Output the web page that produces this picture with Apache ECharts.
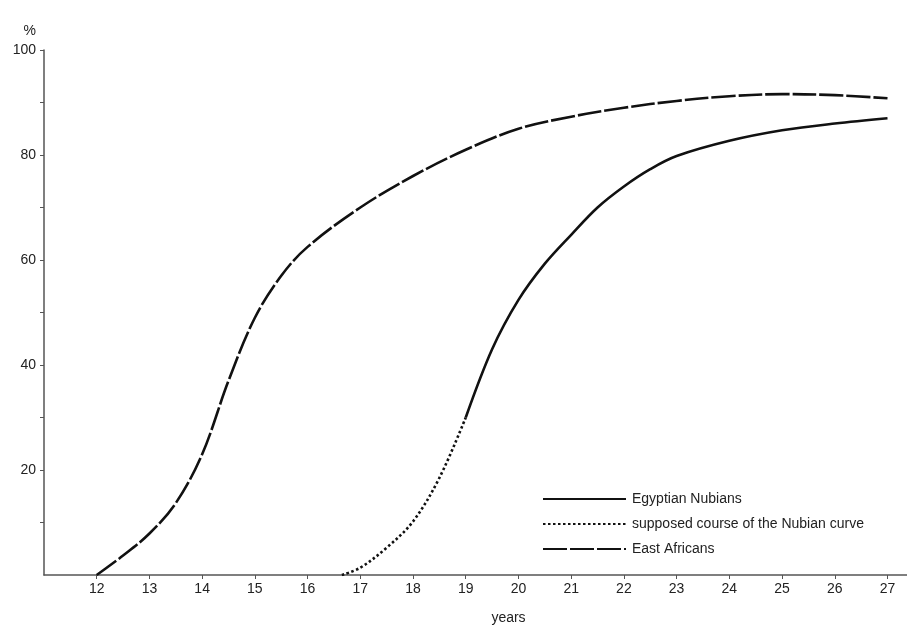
<!DOCTYPE html>
<html>
<head>
<meta charset="utf-8">
<script src="https://cdn.jsdelivr.net/npm/echarts@6/dist/echarts.min.js"></script>
<style>html,body{margin:0;padding:0;background:#fff;}#c{width:907px;height:630px;}</style>
</head>
<body>
<div id="c"></div>
<script>
// ---- data ----
const xTickLabels = [12,13,14,15,16,17,18,19,20,21,22,23,24,25,26,27];
const yTickLabels = [20,40,60,80,100];

const eastAfricanYears  = [12, 12.5, 13, 13.5, 14, 14.5, 15, 15.5, 16, 17, 18, 19, 20, 21, 22, 23, 24, 25, 26, 27];
const eastAfricanValues = [0, 3.7, 7.9, 13.7, 23, 37, 49, 57, 62.5, 70, 76, 81, 85, 87.3, 89, 90.3, 91.2, 91.6, 91.4, 90.8];

const nubianYears  = [19, 19.5, 20, 20.5, 21, 21.5, 22, 22.5, 23, 24, 25, 26, 27];
const nubianValues = [30, 43, 52.4, 59.3, 64.8, 70, 74, 77.3, 79.8, 82.7, 84.7, 86, 87];

const supposedYears  = [16.65, 17, 17.5, 18, 18.5, 19];
const supposedValues = [0, 1.4, 5.2, 10.2, 18.5, 30];

const seriesNames = ['Egyptian Nubians', 'supposed course of the Nubian curve', 'East Africans'];

const pairs = (xs, ys) => xs.map((x, i) => [x, ys[i]]);

const font = 'Liberation Sans, Arial, sans-serif';
const chart = echarts.init(document.getElementById('c'), null, {renderer: 'canvas'});
chart.setOption({
  animation: false,
  backgroundColor: '#fff',
  grid: {left: 44, right: 0, top: 50, bottom: 49.5},
  legend: {
    orient: 'vertical', left: 537, top: 487,
    itemWidth: 83, itemHeight: 14, itemGap: 11,
    data: seriesNames,
    itemStyle: {opacity: 0},
    textStyle: {fontFamily: font, fontSize: 14, color: '#222', padding: [0, 0, 0, 1]}
  },
  xAxis: {
    type: 'value', min: 11, max: 27.37, interval: 1,
    name: 'years', nameLocation: 'middle', nameGap: 36,
    nameTextStyle: {fontFamily: font, fontSize: 14, color: '#222', padding: [0, 0, 0, 66]},
    axisLine: {lineStyle: {color: '#555', width: 1.5}},
    axisTick: {show: true, length: 4, customValues: xTickLabels, lineStyle: {color: '#555'}},
    axisLabel: {customValues: xTickLabels, fontFamily: font, fontSize: 14, color: '#222', margin: 7},
    splitLine: {show: false}
  },
  yAxis: {
    type: 'value', min: 0, max: 100, interval: 20,
    name: '%', nameLocation: 'end', nameGap: 12,
    nameTextStyle: {fontFamily: font, fontSize: 14, color: '#222', align: 'right', padding: [0, 8, 0, 0]},
    axisLine: {show: true, lineStyle: {color: '#555', width: 1.5}},
    axisTick: {show: true, length: 4, customValues: yTickLabels, lineStyle: {color: '#555'}},
    minorTick: {show: true, splitNumber: 2, length: 4, lineStyle: {color: '#555'}},
    axisLabel: {customValues: yTickLabels, fontFamily: font, fontSize: 14, color: '#222', margin: 8},
    splitLine: {show: false}
  },
  series: [
    {
      name: seriesNames[0], type: 'line', smooth: 0.35, symbol: 'none',
      data: pairs(nubianYears, nubianValues),
      lineStyle: {color: '#111', width: 2.6, type: 'solid'},
      itemStyle: {color: '#111'}
    },
    {
      name: seriesNames[1], type: 'line', smooth: 0.35, symbol: 'none',
      data: pairs(supposedYears, supposedValues),
      lineStyle: {color: '#111', width: 2.6, type: [2.5, 2.5], cap: 'butt'},
      itemStyle: {color: '#111'}
    },
    {
      name: seriesNames[2], type: 'line', smooth: 0.35, symbol: 'none',
      data: pairs(eastAfricanYears, eastAfricanValues),
      lineStyle: {color: '#111', width: 2.6, type: [24, 3], cap: 'butt'},
      itemStyle: {color: '#111'}
    }
  ]
});
</script>
</body>
</html>
